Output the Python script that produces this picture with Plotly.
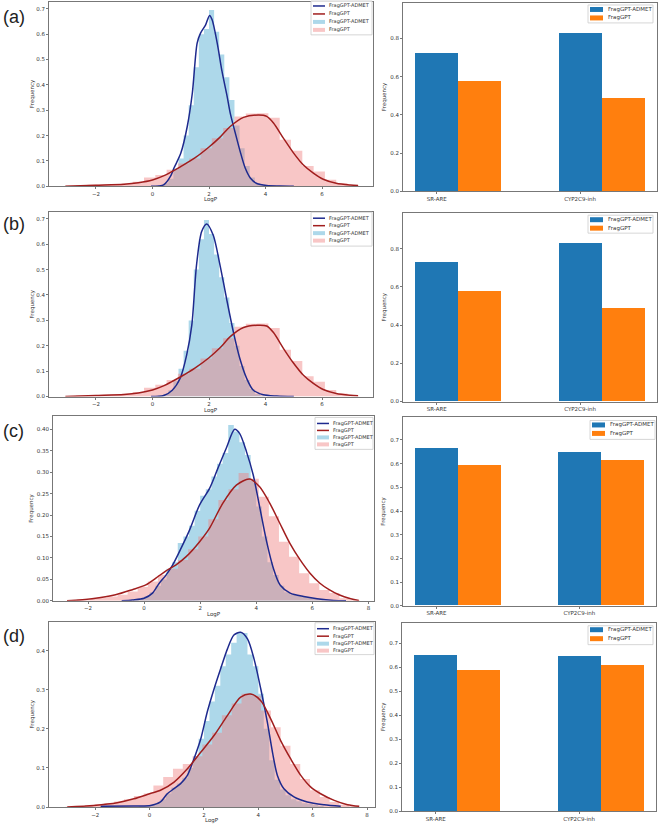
import plotly.graph_objects as go

W, H = 661, 827

# ---------------- data: panel (a) ----------------
a_kde_admet_x = [-0.05, 0.41, 0.64, 0.76, 1.0, 1.23, 1.41, 1.58, 1.7, 1.88, 2.02, 2.11, 2.29, 2.46, 2.64, 2.75, 2.93, 3.1, 3.28, 3.46, 3.69, 4.04, 4.5, 5.0]
a_kde_admet_y = [0.0, 0.007, 0.04, 0.072, 0.13, 0.236, 0.368, 0.565, 0.604, 0.637, 0.674, 0.657, 0.565, 0.453, 0.355, 0.289, 0.21, 0.138, 0.072, 0.033, 0.011, 0.003, 0.001, 0.0]
a_kde_frag_x = [-3.08, -2.0, -1.0, -0.5, 0.0, 0.41, 0.7, 1.0, 1.5, 2.0, 2.4, 2.75, 3.22, 3.75, 4.04, 4.28, 4.63, 4.98, 5.33, 5.69, 6.04, 6.5, 7.0, 7.27]
a_kde_frag_y = [0.0, 0.004, 0.008, 0.014, 0.025, 0.042, 0.059, 0.078, 0.112, 0.155, 0.195, 0.236, 0.272, 0.281, 0.276, 0.25, 0.19, 0.133, 0.085, 0.052, 0.028, 0.012, 0.005, 0.003]
a_hist_admet_x = [0.29, 0.47, 0.65, 0.83, 1.01, 1.19, 1.37, 1.55, 1.73, 1.91, 2.09, 2.27, 2.45, 2.63, 2.81, 2.99, 3.17, 3.35, 3.53, 3.71, 3.89]
a_hist_admet_y = [0.005, 0.012, 0.03, 0.07, 0.11, 0.2, 0.32, 0.47, 0.6, 0.62, 0.695, 0.61, 0.52, 0.43, 0.34, 0.24, 0.15, 0.08, 0.035, 0.012, 0.004]
a_hist_admet_w = 0.18
a_hist_frag_x = [-2.9, -2.5, -2.1, -1.7, -1.3, -0.9, -0.5, -0.1, 0.3, 0.7, 1.1, 1.5, 1.9, 2.3, 2.7, 3.1, 3.5, 3.9, 4.3, 4.7, 5.1, 5.5, 5.9, 6.3, 6.7, 7.1]
a_hist_frag_y = [0.002, 0.004, 0.006, 0.007, 0.008, 0.011, 0.018, 0.035, 0.045, 0.065, 0.09, 0.11, 0.15, 0.19, 0.23, 0.275, 0.287, 0.288, 0.27, 0.184, 0.14, 0.08, 0.058, 0.026, 0.012, 0.004]
a_hist_frag_w = 0.4

# ---------------- data: panel (b) ----------------
b_kde_admet_x = [-0.05, 0.4, 0.7, 0.98, 1.21, 1.39, 1.56, 1.74, 1.92, 2.15, 2.39, 2.62, 2.86, 3.09, 3.33, 3.56, 3.92, 4.4, 5.0]
b_kde_admet_y = [0.0, 0.004, 0.025, 0.072, 0.164, 0.28, 0.52, 0.65, 0.68, 0.635, 0.517, 0.386, 0.255, 0.15, 0.072, 0.026, 0.007, 0.002, 0.0]
b_kde_frag_x = [-3.08, -2.0, -1.0, -0.5, 0.0, 0.41, 0.7, 1.0, 1.5, 2.0, 2.4, 2.75, 3.22, 3.7, 4.04, 4.28, 4.63, 4.98, 5.33, 5.69, 6.04, 6.5, 7.0, 7.27]
b_kde_frag_y = [0.0, 0.004, 0.008, 0.014, 0.026, 0.043, 0.06, 0.078, 0.112, 0.153, 0.193, 0.236, 0.272, 0.281, 0.278, 0.252, 0.19, 0.133, 0.085, 0.052, 0.028, 0.012, 0.005, 0.003]
b_hist_admet_x = [0.29, 0.47, 0.65, 0.83, 1.01, 1.19, 1.37, 1.55, 1.73, 1.91, 2.09, 2.27, 2.45, 2.63, 2.81, 2.99, 3.17, 3.35, 3.53, 3.71, 3.89]
b_hist_admet_y = [0.004, 0.01, 0.025, 0.06, 0.11, 0.18, 0.3, 0.5, 0.62, 0.695, 0.64, 0.56, 0.47, 0.39, 0.29, 0.2, 0.12, 0.065, 0.03, 0.01, 0.004]
b_hist_admet_w = 0.18
b_hist_frag_x = [-2.9, -2.5, -2.1, -1.7, -1.3, -0.9, -0.5, -0.1, 0.3, 0.7, 1.1, 1.5, 1.9, 2.3, 2.7, 3.1, 3.5, 3.9, 4.3, 4.7, 5.1, 5.5, 5.9, 6.3, 6.7, 7.1]
b_hist_frag_y = [0.002, 0.004, 0.006, 0.007, 0.008, 0.011, 0.018, 0.035, 0.047, 0.065, 0.09, 0.11, 0.15, 0.19, 0.23, 0.275, 0.287, 0.288, 0.27, 0.184, 0.14, 0.08, 0.058, 0.026, 0.012, 0.004]
b_hist_frag_w = 0.4

# ---------------- data: panel (c) ----------------
c_kde_admet_x = [-0.8, -0.42, 0.0, 0.3, 0.54, 0.78, 1.02, 1.32, 1.62, 1.98, 2.34, 2.63, 2.93, 3.23, 3.41, 3.65, 3.89, 4.13, 4.37, 4.61, 4.85, 5.21, 5.69, 6.17, 6.77, 7.2]
c_kde_admet_y = [0.0, 0.002, 0.006, 0.018, 0.041, 0.06, 0.084, 0.123, 0.165, 0.224, 0.263, 0.309, 0.356, 0.4, 0.39, 0.348, 0.294, 0.216, 0.138, 0.076, 0.037, 0.018, 0.01, 0.005, 0.001, 0.0]
c_kde_frag_x = [-2.75, -1.86, -1.02, -0.42, 0.06, 0.42, 0.78, 1.14, 1.5, 1.98, 2.33, 2.81, 3.29, 3.76, 4.12, 4.48, 4.84, 5.2, 5.56, 5.91, 6.27, 6.6, 6.95, 7.37, 7.66]
c_kde_frag_y = [0.0, 0.005, 0.014, 0.026, 0.037, 0.053, 0.07, 0.084, 0.103, 0.138, 0.169, 0.228, 0.27, 0.284, 0.266, 0.228, 0.181, 0.134, 0.096, 0.065, 0.041, 0.026, 0.014, 0.005, 0.001]
c_hist_admet_x = [-0.3, -0.1, 0.1, 0.3, 0.5, 0.7, 0.9, 1.1, 1.3, 1.5, 1.7, 1.9, 2.1, 2.3, 2.5, 2.7, 2.9, 3.1, 3.3, 3.5, 3.7, 3.9, 4.1, 4.3, 4.5, 4.7, 4.9, 5.1, 5.3, 5.5, 5.7, 5.9, 6.1, 6.3]
c_hist_admet_y = [0.003, 0.005, 0.01, 0.02, 0.035, 0.05, 0.075, 0.09, 0.135, 0.15, 0.175, 0.21, 0.245, 0.26, 0.29, 0.32, 0.345, 0.41, 0.395, 0.37, 0.34, 0.28, 0.22, 0.15, 0.09, 0.06, 0.035, 0.02, 0.015, 0.012, 0.01, 0.008, 0.005, 0.003]
c_hist_admet_w = 0.2
c_hist_frag_x = [-2.57, -2.21, -1.85, -1.49, -1.13, -0.77, -0.41, -0.05, 0.31, 0.67, 1.03, 1.39, 1.75, 2.11, 2.47, 2.83, 3.19, 3.55, 3.91, 4.27, 4.63, 4.99, 5.35, 5.71, 6.07, 6.43, 6.79, 7.15, 7.51]
c_hist_frag_y = [0.001, 0.003, 0.005, 0.007, 0.01, 0.014, 0.022, 0.032, 0.045, 0.06, 0.075, 0.095, 0.12, 0.15, 0.19, 0.235, 0.26, 0.298, 0.285, 0.243, 0.197, 0.138, 0.103, 0.064, 0.041, 0.025, 0.018, 0.006, 0.002]
c_hist_frag_w = 0.36

# ---------------- data: panel (d) ----------------
d_kde_admet_x = [-1.8, -0.58, 0.04, 0.4, 0.65, 0.9, 1.14, 1.39, 1.63, 1.88, 2.12, 2.37, 2.61, 2.86, 3.1, 3.35, 3.6, 3.84, 4.09, 4.33, 4.52, 4.7, 4.94, 5.31, 5.8, 6.42, 7.03]
d_kde_admet_y = [0.002, 0.003, 0.004, 0.013, 0.034, 0.047, 0.06, 0.081, 0.123, 0.174, 0.243, 0.302, 0.353, 0.404, 0.44, 0.447, 0.43, 0.379, 0.302, 0.217, 0.14, 0.081, 0.047, 0.026, 0.013, 0.006, 0.002]
d_kde_frag_x = [-3.03, -2.05, -1.19, -0.58, 0.0, 0.4, 0.9, 1.39, 1.88, 2.37, 2.86, 3.35, 3.72, 4.09, 4.45, 4.82, 5.19, 5.56, 5.93, 6.29, 6.79, 7.28, 7.71]
d_kde_frag_y = [0.0, 0.004, 0.011, 0.021, 0.034, 0.043, 0.064, 0.098, 0.14, 0.183, 0.234, 0.281, 0.289, 0.272, 0.226, 0.17, 0.123, 0.081, 0.051, 0.034, 0.017, 0.006, 0.002]
d_hist_admet_x = [-0.3, -0.1, 0.1, 0.3, 0.5, 0.7, 0.9, 1.1, 1.3, 1.5, 1.7, 1.9, 2.1, 2.3, 2.5, 2.7, 2.9, 3.1, 3.3, 3.5, 3.7, 3.9, 4.1, 4.3, 4.5, 4.7, 4.9, 5.1, 5.3, 5.5, 5.7, 5.9, 6.1, 6.3]
d_hist_admet_y = [0.003, 0.004, 0.006, 0.01, 0.02, 0.035, 0.05, 0.06, 0.075, 0.1, 0.13, 0.175, 0.22, 0.27, 0.31, 0.36, 0.39, 0.42, 0.445, 0.445, 0.39, 0.36, 0.29, 0.2, 0.12, 0.07, 0.045, 0.03, 0.02, 0.015, 0.01, 0.008, 0.005, 0.003]
d_hist_admet_w = 0.2
d_hist_frag_x = [-2.92, -2.56, -2.2, -1.84, -1.48, -1.12, -0.76, -0.4, -0.04, 0.32, 0.68, 1.04, 1.4, 1.76, 2.12, 2.48, 2.84, 3.2, 3.56, 3.92, 4.28, 4.64, 5.0, 5.36, 5.72, 6.08, 6.44, 6.8, 7.16, 7.52]
d_hist_frag_y = [0.001, 0.003, 0.005, 0.007, 0.01, 0.014, 0.02, 0.028, 0.035, 0.055, 0.077, 0.098, 0.11, 0.13, 0.16, 0.19, 0.235, 0.265, 0.29, 0.285, 0.247, 0.204, 0.157, 0.11, 0.072, 0.043, 0.026, 0.013, 0.006, 0.002]
d_hist_frag_w = 0.36

# ---------------- bar chart data ----------------
bar_categories = ["SR-ARE", "CYP2C9-inh"]
a_bar_admet = [0.725, 0.828]
a_bar_frag = [0.577, 0.486]
b_bar_admet = [0.728, 0.828]
b_bar_frag = [0.575, 0.486]
c_bar_admet = [0.665, 0.648]
c_bar_frag = [0.592, 0.612]
d_bar_admet = [0.655, 0.650]
d_bar_frag = [0.591, 0.612]

series_names = ["FragGPT-ADMET", "FragGPT"]
panel_labels = ["(a)", "(b)", "(c)", "(d)"]
x_title = "LogP"
y_title = "Frequency"

# ---------------- styles / layout helpers ----------------
FONT = "DejaVu Sans"
LINE_BLUE = "#1e2a8e"
LINE_RED = "#a11e1e"
HIST_BLUE = "rgba(150,205,228,0.78)"
HIST_PINK = "rgba(240,128,128,0.45)"
BAR_BLUE = "#1f77b4"
BAR_ORANGE = "#ff7f0e"
AXIS_COL = "#777777"
TEXT_COL = "#333333"
SMALL = 5.5
TICK_FONT = dict(family=FONT, size=SMALL, color=TEXT_COL)


def fx(px):
    return px / W


def fy(py):
    return 1 - py / H


def hist_steps(centers, heights, width):
    """Bin edges + heights for a filled step outline of a histogram."""
    edges = [c - width / 2 for c in centers] + [centers[-1] + width / 2]
    return edges, list(heights) + [heights[-1]]


left_panels = [
    dict(kax=(a_kde_admet_x, a_kde_admet_y), kfr=(a_kde_frag_x, a_kde_frag_y),
         hax=(a_hist_admet_x, a_hist_admet_y, a_hist_admet_w), hfr=(a_hist_frag_x, a_hist_frag_y, a_hist_frag_w),
         box=(49, 373, 2, 187), xr=[-3.66, 7.8], yr=[0, 0.727], dy=0.1, fmt=".1f",
         xt=[-2, 0, 2, 4, 6], leg=(311, 372, 1, 35), rows=[6, 14, 22, 30]),
    dict(kax=(b_kde_admet_x, b_kde_admet_y), kfr=(b_kde_frag_x, b_kde_frag_y),
         hax=(b_hist_admet_x, b_hist_admet_y, b_hist_admet_w), hfr=(b_hist_frag_x, b_hist_frag_y, b_hist_frag_w),
         box=(49, 373, 213, 398), xr=[-3.66, 7.8], yr=[0, 0.726], dy=0.1, fmt=".1f",
         xt=[-2, 0, 2, 4, 6], leg=(311, 372, 213, 247), rows=[219, 226.5, 234, 241.5]),
    dict(kax=(c_kde_admet_x, c_kde_admet_y), kfr=(c_kde_frag_x, c_kde_frag_y),
         hax=(c_hist_admet_x, c_hist_admet_y, c_hist_admet_w), hfr=(c_hist_frag_x, c_hist_frag_y, c_hist_frag_w),
         box=(53, 374, 418, 603), xr=[-3.25, 8.2], yr=[0, 0.43], dy=0.05, fmt=".2f",
         xt=[-2, 0, 2, 4, 6, 8], leg=(315, 373, 419, 451), rows=[425, 432, 439, 446]),
    dict(kax=(d_kde_admet_x, d_kde_admet_y), kfr=(d_kde_frag_x, d_kde_frag_y),
         hax=(d_hist_admet_x, d_hist_admet_y, d_hist_admet_w), hfr=(d_hist_frag_x, d_hist_frag_y, d_hist_frag_w),
         box=(49, 375, 624, 810), xr=[-3.7, 8.29], yr=[0, 0.474], dy=0.1, fmt=".1f",
         xt=[-2, 0, 2, 4, 6, 8], leg=(315, 374, 625, 657), rows=[631, 638.5, 646, 653]),
]

right_panels = [
    dict(adm=a_bar_admet, frg=a_bar_frag, box=(403, 657, 3, 192), yr=[0, 0.985], dy=0.2,
         leg=(588, 653, 5, 23), rows=[9.5, 18]),
    dict(adm=b_bar_admet, frg=b_bar_frag, box=(403, 657, 214, 403), yr=[0, 0.985], dy=0.2,
         leg=(588, 653, 216, 234), rows=[220.5, 229]),
    dict(adm=c_bar_admet, frg=c_bar_frag, box=(403, 656, 419, 608), yr=[0, 0.795], dy=0.1,
         leg=(590, 655, 422, 441), rows=[426.5, 435]),
    dict(adm=d_bar_admet, frg=d_bar_frag, box=(402, 656, 625, 814), yr=[0, 0.787], dy=0.1,
         leg=(588, 653, 628, 647), rows=[632, 641]),
]

label_y = [17, 225, 433, 638]

fig = go.Figure()
shapes = []
annotations = []
layout = dict(
    width=W, height=H, autosize=False,
    margin=dict(l=0, r=0, t=0, b=0),
    paper_bgcolor="white", plot_bgcolor="white",
    barmode="overlay", bargap=0, showlegend=False,
    font=dict(family=FONT, size=SMALL, color=TEXT_COL),
)


def axis_common():
    return dict(showline=True, mirror=True, linecolor=AXIS_COL, linewidth=1,
                ticks="outside", ticklen=2, tickwidth=1, tickcolor=AXIS_COL,
                showgrid=False, zeroline=False, tickfont=TICK_FONT)


def text_at(x, y, text, size, xanchor="left", angle=0, family=FONT, color=TEXT_COL):
    annotations.append(dict(text=text, x=fx(x), y=fy(y), xref="paper", yref="paper", xanchor=xanchor, yanchor="middle",
                            showarrow=False, textangle=angle, font=dict(family=family, size=size, color=color)))


def legend_box(box):
    x0, x1, y0, y1 = box
    shapes.append(dict(type="rect", xref="paper", yref="paper", x0=fx(x0), x1=fx(x1), y0=fy(y1), y1=fy(y0),
                       line=dict(color="#cccccc", width=0.8), fillcolor="rgba(255,255,255,0.85)", layer="above"))


def legend_line(x0, x1, y, color):
    shapes.append(dict(type="line", xref="paper", yref="paper", x0=fx(x0), x1=fx(x1), y0=fy(y), y1=fy(y),
                       line=dict(color=color, width=1.5), layer="above"))


def legend_patch(x0, x1, y, hgt, color):
    shapes.append(dict(type="rect", xref="paper", yref="paper", x0=fx(x0), x1=fx(x1), y0=fy(y + hgt / 2), y1=fy(y - hgt / 2),
                       line=dict(width=0), fillcolor=color, layer="above"))


ax_idx = 0
for i in range(4):
    # ---- left panel ----
    ax_idx += 1
    p = left_panels[i]
    xa = "x" if ax_idx == 1 else f"x{ax_idx}"
    ya = "y" if ax_idx == 1 else f"y{ax_idx}"
    x0, x1, y0, y1 = p["box"]

    for (hx, hy, hw), col, nm in ((p["hax"], HIST_BLUE, series_names[0]), (p["hfr"], HIST_PINK, series_names[1])):
        ex, ey = hist_steps(hx, hy, hw)
        fig.add_trace(go.Scatter(x=ex, y=ey, mode="lines", line=dict(width=0, shape="hv"), fill="tozeroy",
                                 fillcolor=col, name=nm, xaxis=xa, yaxis=ya, hoverinfo="skip"))
    fig.add_trace(go.Scatter(x=p["kax"][0], y=p["kax"][1], mode="lines", line=dict(color=LINE_BLUE, width=1.5, shape="spline", smoothing=0.8),
                             name=series_names[0], xaxis=xa, yaxis=ya))
    fig.add_trace(go.Scatter(x=p["kfr"][0], y=p["kfr"][1], mode="lines", line=dict(color=LINE_RED, width=1.5, shape="spline", smoothing=0.8),
                             name=series_names[1], xaxis=xa, yaxis=ya))

    xd = axis_common()
    xd.update(domain=[fx(x0), fx(x1)], range=p["xr"], tickvals=p["xt"], anchor=ya)
    yd = axis_common()
    yd.update(domain=[fy(y1), fy(y0)], range=p["yr"], dtick=p["dy"], tick0=0, tickformat=p["fmt"], anchor=xa)
    layout["xaxis" if ax_idx == 1 else f"xaxis{ax_idx}"] = xd
    layout["yaxis" if ax_idx == 1 else f"yaxis{ax_idx}"] = yd
    text_at((x0 + x1) / 2, y1 + 13.5, x_title, SMALL, xanchor="center")
    text_at(32, (y0 + y1) / 2, y_title, SMALL, xanchor="center", angle=-90)

    # legend (drawn as decoration)
    lb = p["leg"]
    legend_box(lb)
    sx0, sx1, tx = lb[0] + 2, lb[0] + 14, lb[0] + 16
    legend_line(sx0, sx1, p["rows"][0], LINE_BLUE)
    text_at(tx, p["rows"][0], series_names[0], 5)
    legend_line(sx0, sx1, p["rows"][1], LINE_RED)
    text_at(tx, p["rows"][1], series_names[1], 5)
    legend_patch(sx0, sx1, p["rows"][2], 4, HIST_BLUE)
    text_at(tx, p["rows"][2], series_names[0], 5)
    legend_patch(sx0, sx1, p["rows"][3], 4, HIST_PINK)
    text_at(tx, p["rows"][3], series_names[1], 5)

    # ---- right panel ----
    ax_idx += 1
    r = right_panels[i]
    xa = f"x{ax_idx}"
    ya = f"y{ax_idx}"
    x0, x1, y0, y1 = r["box"]
    cat_pos = list(range(len(bar_categories)))
    fig.add_trace(go.Bar(x=cat_pos, y=r["adm"], width=0.3, offset=-0.15, marker=dict(color=BAR_BLUE, line=dict(width=0)),
                         name=series_names[0], xaxis=xa, yaxis=ya))
    fig.add_trace(go.Bar(x=cat_pos, y=r["frg"], width=0.3, offset=0.15, marker=dict(color=BAR_ORANGE, line=dict(width=0)),
                         name=series_names[1], xaxis=xa, yaxis=ya))
    xd = axis_common()
    xd.update(domain=[fx(x0), fx(x1)], range=[-0.235, 1.537], tickvals=cat_pos, ticktext=bar_categories, anchor=ya)
    yd = axis_common()
    yd.update(domain=[fy(y1), fy(y0)], range=r["yr"], dtick=r["dy"], tick0=0, tickformat=".1f", anchor=xa)
    layout[f"xaxis{ax_idx}"] = xd
    layout[f"yaxis{ax_idx}"] = yd
    text_at(384, (y0 + y1) / 2, y_title, SMALL, xanchor="center", angle=-90)

    lb = r["leg"]
    legend_box(lb)
    sx0, sx1, tx = lb[0] + 2, lb[0] + 15, lb[0] + 18
    legend_patch(sx0, sx1, r["rows"][0], 5, BAR_BLUE)
    text_at(tx, r["rows"][0], series_names[0], 5.5)
    legend_patch(sx0, sx1, r["rows"][1], 5, BAR_ORANGE)
    text_at(tx, r["rows"][1], series_names[1], 5.5)

    text_at(1, label_y[i], panel_labels[i], 18, family="Liberation Sans", color="#222222")

layout["shapes"] = shapes
layout["annotations"] = annotations
fig.update_layout(**layout)
fig.write_html("out.html", config={"displayModeBar": False},
               post_script="document.body.style.margin='0';document.body.style.overflow='hidden';")
